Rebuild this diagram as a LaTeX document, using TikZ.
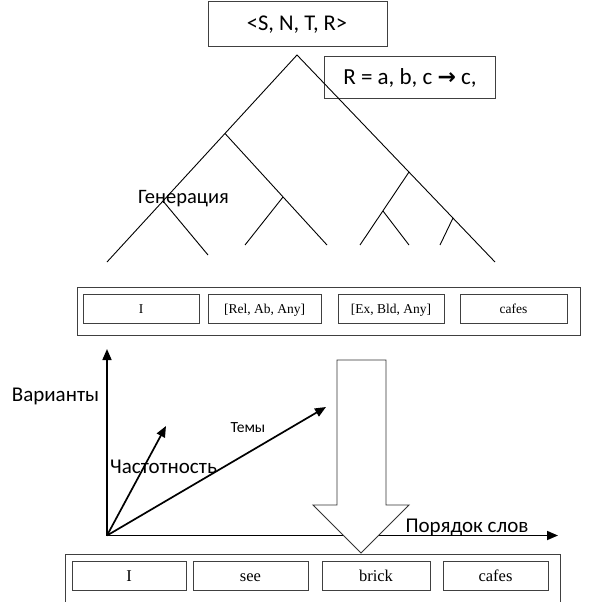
\documentclass[tikz,border=0pt]{standalone}
\usepackage{fontspec}
\setmainfont{Liberation Serif}
\newfontfamily\lblfont{Carlito}
\newfontfamily\symfont{DejaVu Sans}
\usetikzlibrary{arrows.meta}
\begin{document}
\begin{tikzpicture}[x=1pt,y=-1pt,
  box/.style={draw=black!75, line width=0.9pt, inner sep=0pt},
  midword/.style={font=\fontsize{13.5}{14}\selectfont, text height=9pt, text depth=0pt},
  botword/.style={font=\fontsize{16.5}{17}\selectfont, text height=11pt, text depth=0pt},
  lbl/.style={font=\lblfont\fontsize{21}{22}\selectfont, inner sep=0pt},
  branch/.style={draw=black, line width=0.9pt},
  axis/.style={draw=black, line width=1.7pt, -{Triangle[length=11pt,width=9pt]}},
  bigarrow/.style={draw=black!80, line width=0.9pt, fill=white}]
\useasboundingbox (0,0) rectangle (596,602);
\fill[white] (0,0) rectangle (596,602);

% top boxes
\node[box, minimum width=179pt, minimum height=45pt] (top) at (297.5,23.5) {};
\node[lbl, font=\lblfont\fontsize{22.5}{24}\selectfont] (toptxt) at (297,25) {<S, N, T, R>};
\node[box, minimum width=171pt, minimum height=42pt] (rbox) at (409.5,77) {};
\node[lbl, font=\lblfont\fontsize{23}{24}\selectfont] (rtxt) at (410,78) {R = a, b, c {\symfont\fontsize{22}{23}\selectfont\bfseries →} c,};

% tree
\coordinate (A) at (297,55);
\coordinate (LL) at (107,262);
\coordinate (RR) at (495,262);
\coordinate (L1) at (225,133.5);
\coordinate (L1e) at (327,245);
\coordinate (L2) at (163,201);
\coordinate (L2e) at (208,255);
\coordinate (L3) at (283,197);
\coordinate (L3e) at (245,245);
\coordinate (R1) at (409,172);
\coordinate (R1e) at (360,245);
\coordinate (R2) at (383,211);
\coordinate (R2e) at (409,245);
\coordinate (R3) at (453,218);
\coordinate (R3e) at (440,245);
\draw[branch] (LL) -- (A) -- (RR);
\draw[branch] (L1) -- (L1e);
\draw[branch] (L2) -- (L2e);
\draw[branch] (L3) -- (L3e);
\draw[branch] (R1) -- (R1e);
\draw[branch] (R2) -- (R2e);
\draw[branch] (R3) -- (R3e);
\node[lbl, font=\lblfont\fontsize{20.5}{22}\selectfont] (gen) at (183.5,199) {Генерация};

% middle row
\node[box, minimum width=503pt, minimum height=48pt] (mid) at (328.5,311) {};
\node[box, midword, minimum width=116pt, minimum height=29pt] (m1) at (141,308.5) {I};
\node[box, midword, minimum width=113pt, minimum height=29pt] (m2) at (264.5,308.5) {[Rel, Ab, Any]};
\node[box, midword, minimum width=106pt, minimum height=29pt] (m3) at (391,308.5) {[Ex, Bld, Any]};
\node[box, midword, minimum width=107pt, minimum height=29pt] (m4) at (513.5,308.5) {cafes};

% axes
\coordinate (O) at (107,535.5);
\coordinate (Vt) at (107,349);
\coordinate (Ht) at (558,535.5);
\coordinate (Ft) at (166,426);
\coordinate (Tt) at (326,407);
\draw[axis] (O) -- (Vt);
\draw[axis] (O) -- (Ht);
\draw[axis] (O) -- (Ft);
\draw[axis] (O) -- (Tt);
\node[lbl] (var) at (55.5,396) {Варианты};
\node[lbl] (freq) at (163.5,467) {Частотность};
\node[lbl, font=\lblfont\fontsize{15.5}{16}\selectfont] (themes) at (248,428) {Темы};
\node[lbl] (order) at (467,527) {Порядок слов};

% big arrow
\draw[bigarrow] (337,360) -- (386,360) -- (386,505) -- (409,505) -- (361,553) -- (313,505) -- (337,505) -- cycle;

% bottom row
\draw[draw=black!75, line width=0.9pt] (65,605) -- (65,554) -- (560,554) -- (560,605);
\node[box, botword, minimum width=114pt, minimum height=29pt] (b1) at (129,575.5) {I};
\node[box, botword, minimum width=115pt, minimum height=29pt] (b2) at (250.5,575.5) {see};
\node[box, botword, minimum width=108pt, minimum height=29pt] (b3) at (376,575.5) {brick};
\node[box, botword, minimum width=105pt, minimum height=29pt] (b4) at (495.5,575.5) {cafes};
\end{tikzpicture}
\end{document}
